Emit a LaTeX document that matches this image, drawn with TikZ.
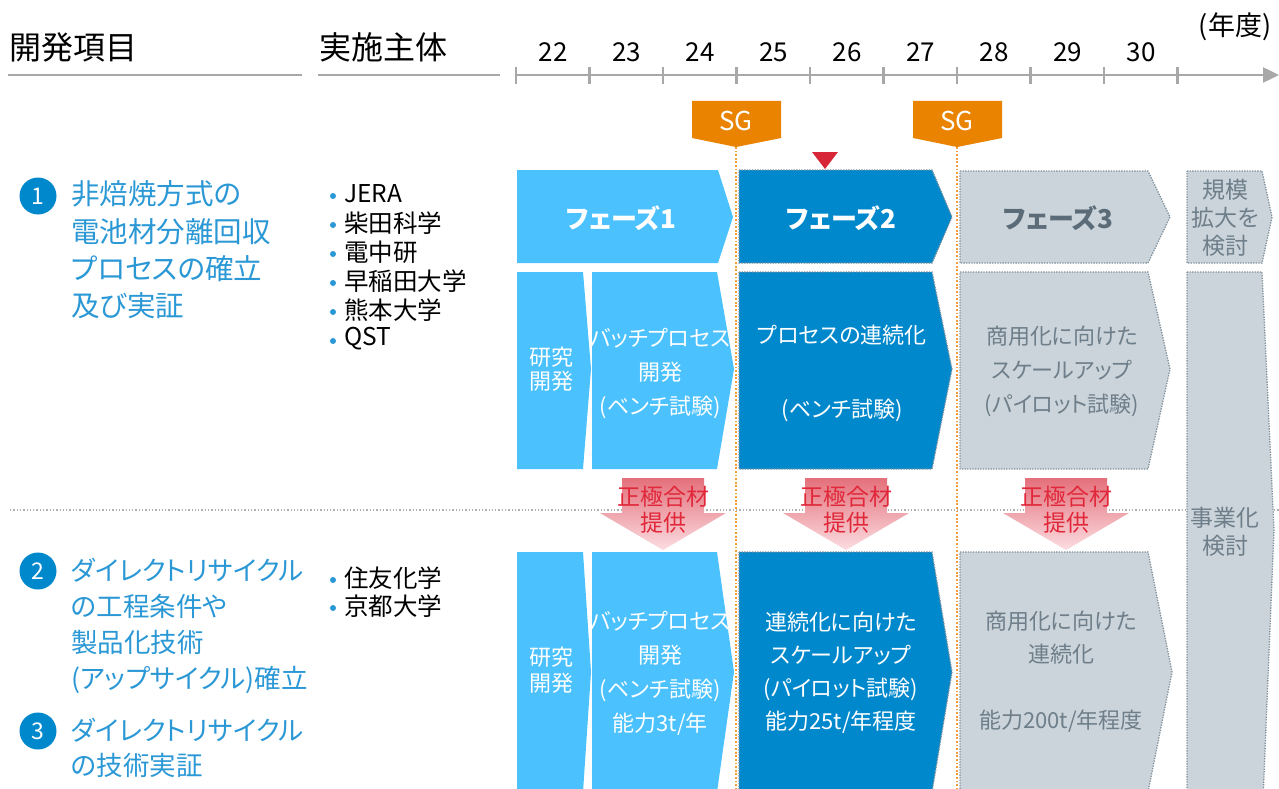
\documentclass[tikz,border=0pt]{standalone}
\usepackage{fontspec}
\setmainfont{Noto Sans CJK JP}[RawFeature=+palt]
\usetikzlibrary{arrows.meta}
\definecolor{pone}{HTML}{4BC1FE}
\definecolor{ptwo}{HTML}{0088CC}
\definecolor{pthree}{HTML}{CBD4DA}
\definecolor{graytxt}{HTML}{6E7E8A}
\definecolor{darkgraytxt}{HTML}{5B6B78}
\definecolor{bordc}{HTML}{7F8F9B}
\definecolor{sgorange}{HTML}{E98300}
\definecolor{orangedot}{HTML}{F39C3A}
\definecolor{redtri}{HTML}{D72638}
\definecolor{arrtop}{HTML}{E4707B}
\definecolor{arrbot}{HTML}{FBDDE1}
\definecolor{arrtxt}{HTML}{E0283A}
\definecolor{itemblue}{HTML}{2B98D6}
\definecolor{axisgray}{HTML}{A8A8A8}
\definecolor{sepgray}{HTML}{B0B0B0}
\newcommand\myfs[2]{\fontsize{#1}{#2}\selectfont}
\begin{document}
\begin{tikzpicture}[x=1pt,y=-1pt,
  hdr/.style={inner sep=0pt,font=\myfs{32}{36}},
  yearlbl/.style={inner sep=0pt,font=\myfs{26}{30}},
  axisline/.style={draw=axisgray,line width=2.4pt},
  dotbord/.style={draw=bordc,line width=1.3pt,dash pattern=on 1.3pt off 1.3pt},
  boxtxt/.style={inner sep=0pt,align=center,font=\myfs{22}{34}},
  titletxt/.style={inner sep=0pt,font=\bfseries\myfs{26}{30}},
  itemtxt/.style={inner sep=0pt,anchor=west,align=left,text=itemblue},
  numcirc/.style={circle,fill=ptwo,text=white,minimum size=37pt,inner sep=0pt,font=\myfs{23}{26}},
  membertxt/.style={inner sep=0pt,anchor=west,font=\myfs{24.5}{28}},
  arrtext/.style={inner sep=0pt,align=center,text=arrtxt,font=\myfs{23}{26}},
  orangeline/.style={draw=orangedot,line width=1.8pt,dash pattern=on 1.8pt off 1.8pt},
]
\useasboundingbox (0,0) rectangle (1279,789);
\clip (0,0) rectangle (1279,789);
\fill[white] (0,0) rectangle (1279,789);

% ---------- header ----------
\node[hdr,anchor=west] (hItem) at (9,47) {開発項目};
\node[hdr,anchor=west] (hBody) at (319,47) {実施主体};
\draw[axisline] (8,75) -- (302,75);
\draw[axisline] (318,75) -- (500,75);
\coordinate (axS) at (516,75);
\coordinate (axE) at (1279,75);
\draw[axisline,-{Triangle[length=16pt,width=15pt]}] (axS) -- (axE);
\foreach \i in {0,...,9} {
  \draw[axisline] (516+73.5*\i,67) -- (516+73.5*\i,84);
}
\foreach \yr [count=\i from 0] in {22,23,24,25,26,27,28,29,30} {
  \node[yearlbl] (yr\yr) at (553+73.5*\i,52) {\yr};
}
\node[inner sep=0pt,font=\myfs{27}{30}] (nendo) at (1235,27) {(年度)};

% ---------- separator ----------
\draw[sepgray,line width=1.3pt,dash pattern=on 1.3pt off 2pt] (10,510) -- (1279,510);

% ---------- SG markers ----------
\fill[sgorange] (692,101) -- (781,101) -- (781,138) -- (736,147) -- (692,138) -- cycle;
\node[inner sep=0pt,text=white,font=\myfs{26}{28}] (sg1) at (736,121) {SG};
\fill[sgorange] (913,101) -- (1002,101) -- (1002,138) -- (957,147) -- (913,138) -- cycle;
\node[inner sep=0pt,text=white,font=\myfs{26}{28}] (sg2) at (957,121) {SG};
\fill[redtri] (812,152) -- (838,152) -- (825,169) -- cycle;

% ---------- phase headers ----------
\fill[pone] (517,170) -- (718,170) -- (733,217) -- (718,263) -- (517,263) -- cycle;
\node[titletxt,text=white] (ph1) at (621,218) {フェーズ1};
\path[fill=ptwo,dotbord] (739,170) -- (932,170) -- (952,217) -- (932,263) -- (739,263) -- cycle;
\node[titletxt,text=white] (ph2) at (841,218) {フェーズ2};
\path[fill=pthree,dotbord] (960,171) -- (1148,171) -- (1170,217) -- (1148,263) -- (960,263) -- cycle;
\node[titletxt,text=darkgraytxt] (ph3) at (1058,218) {フェーズ3};
\path[fill=pthree,dotbord] (1187,171) -- (1262,171) -- (1272,217) -- (1262,263) -- (1187,263) -- cycle;
\node[boxtxt,text=graytxt,font=\myfs{23}{28}] (scale) at (1225,218) {規模\\拡大を\\検討};

% ---------- row 1 ----------
\fill[pone] (517,272) -- (583,272) -- (591,369) -- (583,469) -- (517,469) -- cycle;
\node[boxtxt,text=white,font=\myfs{22}{24}] (r1rd) at (551,369) {研究\\開発};
\fill[pone] (592,272) -- (717,272) -- (734,369) -- (717,469) -- (592,469) -- cycle;
\node[boxtxt,text=white] (r1b) at (660,374) {バッチプロセス\\開発\\(ベンチ試験)};
\path[fill=ptwo,dotbord] (739,272) -- (932,272) -- (952,369) -- (932,469) -- (739,469) -- cycle;
\node[boxtxt,text=white,font=\myfs{22}{37}] (r1p2) at (842,373) {プロセスの連続化\\[37pt](ベンチ試験)};
\path[fill=pthree,dotbord] (960,272) -- (1148,272) -- (1170,369) -- (1148,469) -- (960,469) -- cycle;
\node[boxtxt,text=graytxt] (r1p3) at (1062,371) {商用化に向けた\\スケールアップ\\(パイロット試験)};

% ---------- right column ----------
\path[fill=pthree,dotbord] (1187,272) -- (1262,272) -- (1274,530) -- (1263,800) -- (1187,800) -- cycle;
\node[boxtxt,text=graytxt,font=\myfs{23}{28}] (biz) at (1225,532) {事業化\\検討};

% ---------- row 2 ----------
\fill[pone] (517,552) -- (583,552) -- (591,672) -- (583,792) -- (517,792) -- cycle;
\node[boxtxt,text=white,font=\myfs{22}{26}] (r2rd) at (551,670) {研究\\開発};
\fill[pone] (592,552) -- (717,552) -- (734,672) -- (717,792) -- (592,792) -- cycle;
\node[boxtxt,text=white] (r2b) at (660,673) {バッチプロセス\\開発\\(ベンチ試験)\\能力3t/年};
\path[fill=ptwo,dotbord] (739,552) -- (932,552) -- (952,672) -- (932,792) -- (739,792) -- cycle;
\node[boxtxt,text=white,font=\myfs{22}{33}] (r2p2) at (841,673) {連続化に向けた\\スケールアップ\\(パイロット試験)\\能力25t/年程度};
\path[fill=pthree,dotbord] (960,552) -- (1148,552) -- (1172,672) -- (1148,792) -- (960,792) -- cycle;
\node[boxtxt,text=graytxt,font=\myfs{22}{33}] (r2p3) at (1061,672) {商用化に向けた\\連続化\\[33pt]能力200t/年程度};

% ---------- supply arrows ----------
\foreach \c [count=\k] in {663,846,1066} {
  \shade[top color=arrtop,bottom color=arrbot]
    (\c-41,478) -- (\c+41,478) -- (\c+41,513) -- (\c+63,513) -- (\c,550)
    -- (\c-63,513) -- (\c-41,513) -- cycle;
  \node[arrtext] (sup\k) at (\c,510) {正極合材\\提供};
}

% ---------- SG dotted lines ----------
\draw[orangeline] (736,147) -- (736,789);
\draw[orangeline] (957,147) -- (957,789);

% ---------- left column ----------
\node[numcirc] (n1) at (38,196) {1};
\node[itemtxt,font=\myfs{28.5}{37.3}] (it1) at (71,250) {非焙焼方式の\\電池材分離回収\\プロセスの確立\\及び実証};
\node[numcirc] (n2) at (38,571) {2};
\node[itemtxt,font=\myfs{26.5}{36}] (it2) at (71,626) {ダイレクトリサイクル\\の工程条件や\\製品化技術\\(アップサイクル)確立};
\node[numcirc] (n3) at (38,731) {3};
\node[itemtxt,font=\myfs{26.5}{35}] (it3) at (71,748) {ダイレクトリサイクル\\の技術実証};

% ---------- members ----------
\foreach \t [count=\i] in {JERA,柴田科学,電中研,早稲田大学,熊本大学,QST} {
  \fill[itemblue] (333,{194+29*(\i-1)+2}) circle (3pt);
  \node[membertxt] (ma\i) at (344,{194+29*(\i-1)}) {\t};
}
\foreach \t [count=\i] in {住友化学,京都大学} {
  \fill[itemblue] (333,{578+28*(\i-1)+2}) circle (3pt);
  \node[membertxt] (mb\i) at (344,{578+28*(\i-1)}) {\t};
}
\end{tikzpicture}
\end{document}
